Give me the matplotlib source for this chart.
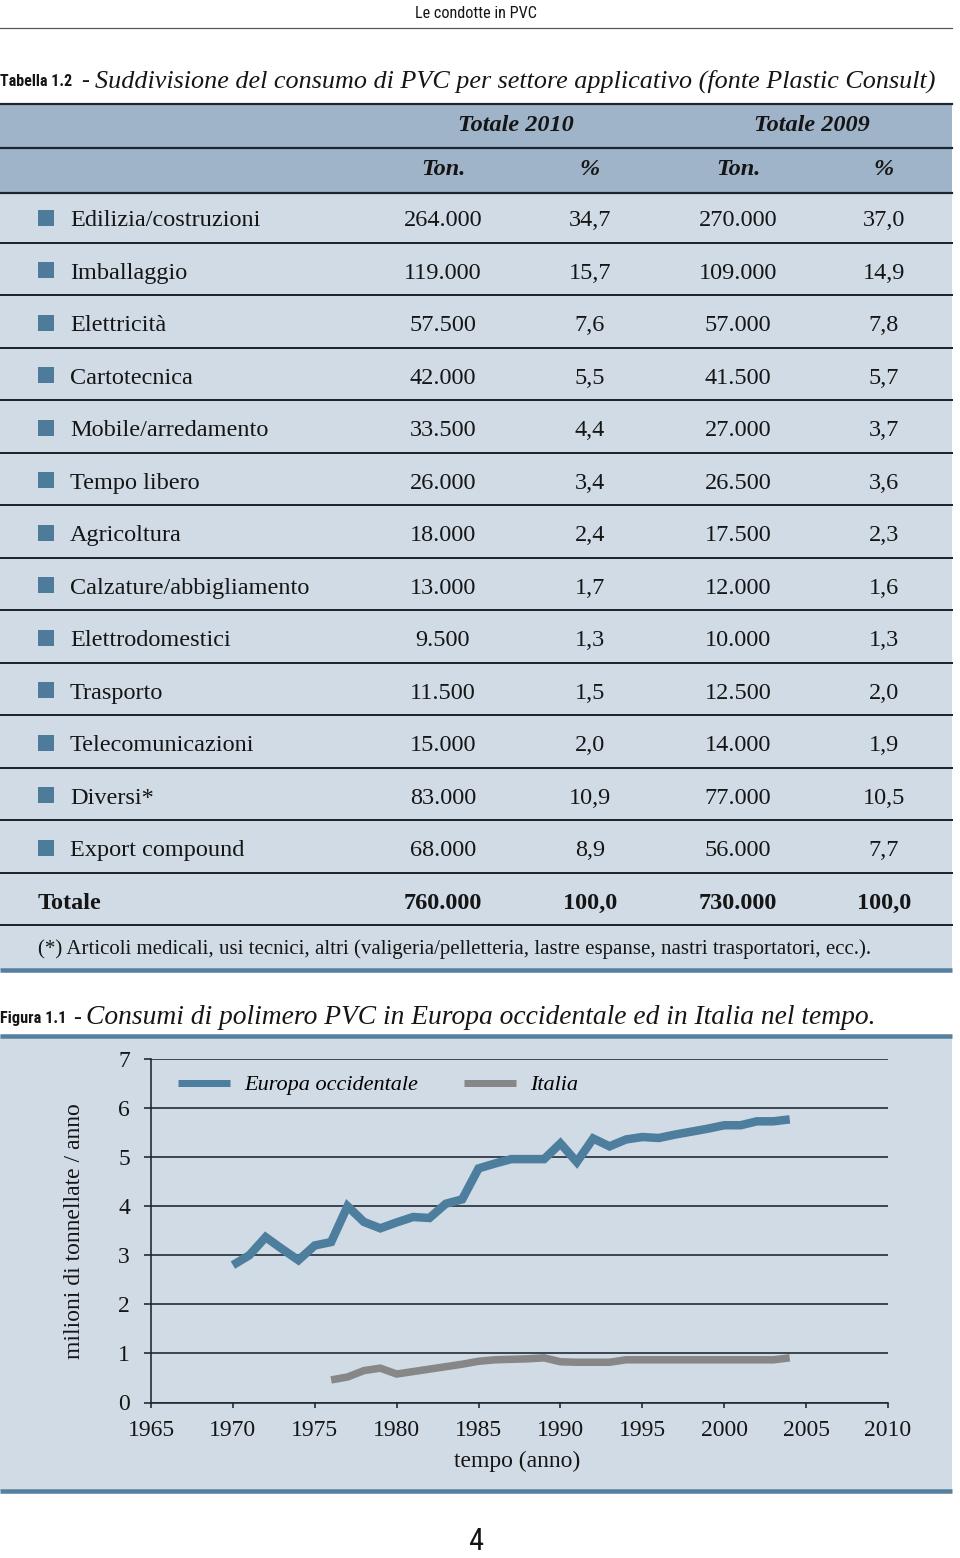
import matplotlib
matplotlib.use("Agg")
import matplotlib.pyplot as plt
from matplotlib import font_manager as fm
from matplotlib.patches import Rectangle

# ---------------- data ----------------
sectors = ["Edilizia/costruzioni", "Imballaggio", "Elettricità", "Cartotecnica",
           "Mobile/arredamento", "Tempo libero", "Agricoltura",
           "Calzature/abbigliamento", "Elettrodomestici", "Trasporto",
           "Telecomunicazioni", "Diversi*", "Export compound"]
ton_2010 = [264000, 119000, 57500, 42000, 33500, 26000, 18000, 13000, 9500,
            11500, 15000, 83000, 68000]
pct_2010 = [34.7, 15.7, 7.6, 5.5, 4.4, 3.4, 2.4, 1.7, 1.3, 1.5, 2.0, 10.9, 8.9]
ton_2009 = [270000, 109000, 57000, 41500, 27000, 26500, 17500, 12000, 10000,
            12500, 14000, 77000, 56000]
pct_2009 = [37.0, 14.9, 7.8, 5.7, 3.7, 3.6, 2.3, 1.6, 1.3, 2.0, 1.9, 10.5, 7.7]
total_label = "Totale"
total_ton_2010, total_pct_2010 = 760000, 100.0
total_ton_2009, total_pct_2009 = 730000, 100.0
group_labels = ["Totale 2010", "Totale 2009"]
col_labels = ["Ton.", "%", "Ton.", "%"]
footnote = ("(*) Articoli medicali, usi tecnici, altri (valigeria/pelletteria, "
            "lastre espanse, nastri trasportatori, ecc.).")

years_eu = list(range(1970, 2005))
europa = [2.80, 3.00, 3.37, 3.13, 2.90, 3.20, 3.27, 4.00, 3.68, 3.55, 3.67,
          3.78, 3.76, 4.05, 4.14, 4.77, 4.87, 4.96, 4.96, 4.96, 5.28, 4.90,
          5.38, 5.22, 5.36, 5.41, 5.39, 5.46, 5.52, 5.58, 5.65, 5.65, 5.73,
          5.73, 5.77]
years_it = list(range(1976, 2005))
italia = [0.46, 0.52, 0.65, 0.70, 0.58, 0.63, 0.68, 0.73, 0.78, 0.84, 0.87,
          0.88, 0.89, 0.91, 0.83, 0.82, 0.82, 0.82, 0.87, 0.87, 0.87, 0.87,
          0.87, 0.87, 0.87, 0.87, 0.87, 0.87, 0.91]
x_ticks = list(range(1965, 2011, 5))
y_ticks = list(range(0, 8))
series_names = ["Europa occidentale", "Italia"]

# ---------------- fonts ----------------
names = {f.name for f in fm.fontManager.ttflist}
def pick(cands, default):
    for c in cands:
        if c in names:
            return c
    return default
SERIF = pick(["Liberation Serif", "DejaVu Serif"], "DejaVu Serif")
COND = pick(["Liberation Sans Narrow", "Roboto Condensed", "DejaVu Sans Condensed",
             "Open Sans Condensed"], "DejaVu Sans")
plt.rcParams["font.family"] = [SERIF, "DejaVu Sans"]

# ---------------- colours ----------------
HEAD = "#9fb4c9"
BODY = "#d0dbe6"
DARK = "#1c2630"
BLUE = "#56809e"
SQUARE = "#4e7b9a"
EU_C = "#4e7e9e"
IT_C = "#878787"
TXT = "#151515"

W, H, DPI = 960, 1558, 100
fig = plt.figure(figsize=(W / DPI, H / DPI), dpi=DPI)
fig.patch.set_facecolor("white")
bg = fig.add_axes([0, 0, 1, 1], zorder=0)
bg.set_xlim(0, W)
bg.set_ylim(H, 0)
bg.axis("off")

def px(v):  # pixels -> points
    return v * 72.0 / DPI

def fmt_ton(v):
    return f"{v:,}".replace(",", ".")

def fmt_pct(v):
    return f"{v:.1f}".replace(".", ",")

fit_list = []

# ---- page header ----
t = bg.text(476, 13, "Le condotte in PVC", family=[COND, "DejaVu Sans"],
            stretch="condensed", ha="center", va="center", fontsize=12, color=TXT)
fit_list.append((t, 122))
bg.plot([0, 952], [27.5, 27.5], color="#555555", lw=px(1.2))

# ---- table title ----
t = bg.text(0, 81, "Tabella 1.2", family=[COND, "DejaVu Sans"], stretch="condensed",
            weight="bold", ha="left", va="center", fontsize=12, color=TXT)
fit_list.append((t, 72))
bg.text(81, 81, "-", ha="left", va="center", fontsize=17, color=TXT, family=SERIF)
t = bg.text(95, 81, "Suddivisione del consumo di PVC per settore applicativo "
            "(fonte Plastic Consult)", family=SERIF, style="italic",
            ha="left", va="center", fontsize=18, color=TXT)
fit_list.append((t, 842))

# ---- table background ----
bg.add_patch(Rectangle((0, 103), 952, 89, facecolor=HEAD, edgecolor="none", zorder=1))
bg.add_patch(Rectangle((0, 192), 952, 778, facecolor=BODY, edgecolor="none", zorder=1))
for yy in (103.5, 147.5, 192.5):
    bg.plot([0, 952], [yy, yy], color=DARK, lw=px(2.2), zorder=3)

col_x = [443, 590, 738, 884]
group_x = [516, 812]
for gx, lab in zip(group_x, group_labels):
    bg.text(gx, 125, lab, family=SERIF, style="italic", weight="bold",
            ha="center", va="center", fontsize=17.5, color=TXT, zorder=4)
for cx, lab in zip(col_x, col_labels):
    bg.text(cx, 169, lab, family=SERIF, style="italic", weight="bold",
            ha="center", va="center", fontsize=17.5, color=TXT, zorder=4)

row0, dy = 218, 52.5
for i, name in enumerate(sectors):
    yc = row0 + dy * i
    bg.add_patch(Rectangle((38, yc - 8.5), 16, 16, facecolor=SQUARE,
                           edgecolor="none", zorder=3))
    bg.text(70, yc, name, family=SERIF, ha="left", va="center_baseline",
            fontsize=17.5, color=TXT, zorder=4)
    vals = [fmt_ton(ton_2010[i]), fmt_pct(pct_2010[i]),
            fmt_ton(ton_2009[i]), fmt_pct(pct_2009[i])]
    for cx, v in zip(col_x, vals):
        bg.text(cx, yc, v, family=SERIF, ha="center", va="center_baseline",
                fontsize=17.5, color=TXT, zorder=4)

yt = row0 + dy * len(sectors)
bg.text(38, yt, total_label, family=SERIF, weight="bold", ha="left",
        va="center_baseline", fontsize=17.5, color=TXT, zorder=4)
tvals = [fmt_ton(total_ton_2010), fmt_pct(total_pct_2010),
         fmt_ton(total_ton_2009), fmt_pct(total_pct_2009)]
for cx, v in zip(col_x, tvals):
    bg.text(cx, yt, v, family=SERIF, weight="bold", ha="center",
            va="center_baseline", fontsize=17.5, color=TXT, zorder=4)

for k in range(len(sectors) + 1):
    yy = 242.5 + dy * k
    bg.plot([0, 952], [yy, yy], color=DARK, lw=px(2.0), zorder=3)

t = bg.text(38, 947, footnote, family=SERIF, ha="left", va="center_baseline",
            fontsize=14, color=TXT, zorder=4)
fit_list.append((t, 832))
bg.plot([0, 952], [969.5, 969.5], color=BLUE, lw=px(4.5), zorder=3,
        solid_capstyle="butt")

# ---- figure title ----
t = bg.text(0, 1018, "Figura 1.1", family=[COND, "DejaVu Sans"], stretch="condensed",
            weight="bold", ha="left", va="center", fontsize=12, color=TXT)
fit_list.append((t, 66))
bg.text(73, 1018, "-", ha="left", va="center", fontsize=17, color=TXT, family=SERIF)
t = bg.text(86, 1018, "Consumi di polimero PVC in Europa occidentale ed in Italia "
            "nel tempo.", family=SERIF, style="italic", ha="left", va="center",
            fontsize=18, color=TXT)
fit_list.append((t, 789))

# chart panel
bg.add_patch(Rectangle((0, 1035), 952, 456, facecolor=BODY, edgecolor="none", zorder=1))
bg.plot([0, 952], [1035.5, 1035.5], color=BLUE, lw=px(4.5), zorder=3,
        solid_capstyle="butt")
bg.plot([0, 952], [1491, 1491], color=BLUE, lw=px(4.5), zorder=3,
        solid_capstyle="butt")

bg.text(75, 1231, "milioni di tonnellate / anno", family=SERIF, rotation=90,
        ha="center", va="center", fontsize=17, color=TXT, zorder=4)
bg.text(517, 1461, "tempo (anno)", family=SERIF, ha="center", va="center",
        fontsize=17, color=TXT, zorder=4)

# page number
bg.text(476, 1541, "4", family=[COND, "DejaVu Sans"], stretch="condensed",
        ha="center", va="center", fontsize=22, color=TXT)

# ---- chart axes ----
L, R, T, B = 151, 888, 1059, 1402.5
ax = fig.add_axes([L / W, 1 - B / H, (R - L) / W, (B - T) / H], zorder=2)
ax.patch.set_alpha(0)
ax.plot(years_eu, europa, color=EU_C, lw=px(8.5), solid_joinstyle="miter",
        solid_capstyle="butt", label=series_names[0], zorder=3)
ax.plot(years_it, italia, color=IT_C, lw=px(7.5), solid_joinstyle="miter",
        solid_capstyle="butt", label=series_names[1], zorder=3)
ax.set_xlim(1965, 2010)
ax.set_ylim(0, 7)
ax.set_xticks(x_ticks)
ax.set_yticks(y_ticks)
for s in ("top", "right"):
    ax.spines[s].set_visible(False)
for s in ("left", "bottom"):
    ax.spines[s].set_color(DARK)
    ax.spines[s].set_linewidth(px(1.6))
ax.set_axisbelow(True)
ax.yaxis.grid(True, color=DARK, lw=px(1.6))
ax.tick_params(axis="y", direction="out", length=px(7), width=px(1.6),
               pad=px(14), labelsize=17, colors=DARK, labelcolor=TXT)
ax.tick_params(axis="x", direction="out", length=px(5), width=px(1.6),
               pad=px(13), labelsize=17, colors=DARK, labelcolor=TXT)
for lab in ax.get_xticklabels() + ax.get_yticklabels():
    lab.set_family(SERIF)

leg = ax.legend(loc="center left",
                bbox_to_anchor=((178 - L) / (R - L), 1 - (1085 - T) / (B - T)),
                ncol=2, frameon=False,
                prop=dict(family=SERIF, style="italic", size=16),
                handlelength=2.34, handletextpad=0.63, columnspacing=2.07,
                borderpad=0, borderaxespad=0)
for h in leg.get_lines():
    h.set_linewidth(px(7))

# ---- fit widths ----
fig.canvas.draw()
r = fig.canvas.get_renderer()
for txt, target in fit_list:
    w = txt.get_window_extent(renderer=r).width
    if w > 0:
        txt.set_fontsize(txt.get_fontsize() * target / w)

fig.savefig("out.png", dpi=DPI, facecolor="white")
